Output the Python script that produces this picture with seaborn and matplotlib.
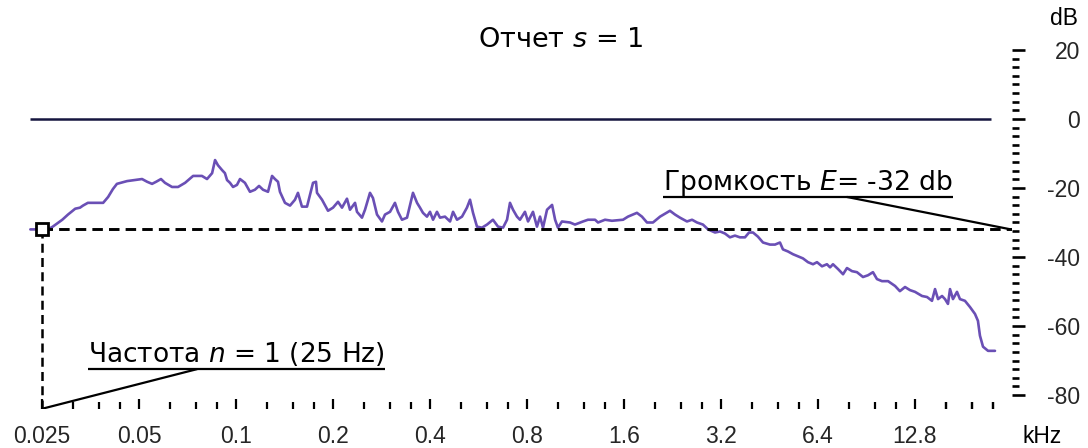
import matplotlib
matplotlib.use("Agg")
import matplotlib.pyplot as plt
import seaborn as sns
import numpy as np
import pandas as pd
from matplotlib.ticker import FixedLocator, FixedFormatter, NullFormatter

# ---------------- data ----------------
freq_khz = [
    0.0230, 0.0261, 0.0270, 0.0289, 0.0301, 0.0317, 0.0328, 0.0335, 0.0347, 0.0387,
    0.0401, 0.0415, 0.0427, 0.0459, 0.0511, 0.0530, 0.0549, 0.0565, 0.0585, 0.0602,
    0.0633, 0.0661, 0.0695, 0.0736, 0.0784, 0.0813,
    0.0843, 0.0861, 0.0879, 0.0905, 0.0924, 0.0938, 0.0958, 0.0979, 0.1007, 0.1029,
    0.1066, 0.1105, 0.1145, 0.1179, 0.1213, 0.1257, 0.1294, 0.1321, 0.1350, 0.1369,
    0.1419, 0.1471, 0.1524, 0.1557, 0.1602, 0.1661, 0.1697, 0.1734, 0.1771, 0.1784,
    0.1849, 0.1930, 0.2000, 0.2073, 0.2133, 0.2210, 0.2258, 0.2341, 0.2374, 0.2460,
    0.2514, 0.2605, 0.2661, 0.2739,
    0.2838, 0.2900, 0.3006, 0.3114, 0.3182, 0.3274, 0.3394, 0.3468, 0.3542, 0.3646,
    0.3724, 0.3804, 0.3914, 0.4000, 0.4088, 0.4204, 0.4296, 0.4452, 0.4616, 0.4716,
    0.4852, 0.5028, 0.5208, 0.5324, 0.5440, 0.5596, 0.5800, 0.6012, 0.6272, 0.6504,
    0.6740, 0.6936, 0.7084, 0.7240, 0.7448, 0.7608, 0.7884, 0.806, 0.835, 0.859,
    0.878, 0.897, 0.923,
    0.957, 0.978, 0.998, 1.027, 1.088, 1.127, 1.194, 1.237, 1.301, 1.329,
    1.397, 1.468, 1.589, 1.646, 1.755, 1.819, 1.886, 1.968, 2.070, 2.222,
    2.304, 2.387, 2.509, 2.602, 2.696, 2.813, 2.917, 3.066, 3.178,
    3.293, 3.411, 3.536, 3.664, 3.798, 3.910, 4.022, 4.166, 4.320, 4.541,
    4.707, 4.877, 4.982, 5.165, 5.354, 5.549, 5.747, 5.958, 6.176, 6.355,
    6.586, 6.822, 6.976, 7.123, 7.386, 7.654, 7.872, 8.160, 8.454, 8.826,
    9.146, 9.478, 9.754,
    10.11, 10.56, 11.10, 11.49, 11.92, 12.35, 12.80, 13.46, 13.95, 14.45,
    14.77, 15.09, 15.53, 15.86, 16.20, 16.44, 16.79, 17.28, 17.65, 18.29,
    18.96, 19.65, 20.07, 20.36, 20.81, 21.57, 22.67,
]
level_db = [
    -32.0, -32.0, -31.2, -29.2, -27.7, -26.0, -25.7, -25.1, -24.3, -24.3,
    -22.6, -20.3, -18.8, -18.0, -17.4, -18.2, -18.8, -18.2, -17.4, -18.5,
    -19.7, -19.7, -18.5, -16.5, -16.5, -17.4,
    -15.7, -11.9, -13.4, -14.8, -15.7, -17.7, -18.5, -19.7, -19.1, -17.4,
    -18.5, -21.1, -20.5, -19.4, -20.5, -21.1, -16.5, -17.4, -18.2, -21.1,
    -24.3, -25.1, -23.4, -21.4, -25.4, -25.4, -22.0, -18.5, -18.2, -21.4,
    -23.4, -26.6, -25.7, -24.0, -25.7, -23.1, -26.3, -24.3, -26.9, -28.6,
    -26.3, -21.4, -22.9, -27.7,
    -29.7, -27.7, -26.9, -24.3, -26.9, -29.2, -28.6, -24.9, -21.4, -24.3,
    -25.7, -27.2, -28.3, -26.9, -29.2, -26.9, -28.6, -28.3, -29.7, -26.9,
    -29.2, -28.3, -25.7, -23.4, -27.2, -31.2, -31.5, -30.6, -29.2, -31.2,
    -31.5, -29.2, -24.3, -26.3, -28.3, -29.2, -26.9, -29.7, -26.9, -31.2,
    -28.3, -31.5, -26.3,
    -24.9, -29.2, -31.5, -29.7, -30.0, -30.6, -29.7, -29.2, -29.2, -30.0,
    -29.2, -29.5, -29.2, -28.3, -27.2, -28.3, -30.0, -30.0, -28.3, -26.6,
    -27.7, -28.6, -29.7, -29.2, -30.0, -30.6, -32.0, -32.9, -32.6,
    -33.2, -34.3, -33.8, -34.3, -34.3, -32.9, -32.9, -34.1, -35.8, -36.4,
    -36.4, -35.8, -37.8, -38.4, -39.2, -39.8, -40.4, -41.5, -42.1, -41.5,
    -42.7, -42.1, -43.0, -42.1, -43.5, -45.0, -43.2, -44.1, -44.4, -45.8,
    -45.3, -44.4, -46.4,
    -47.0, -47.0, -48.4, -49.9, -48.7, -49.6, -50.1, -51.3, -51.6, -52.7,
    -49.3, -52.2, -51.3, -52.2, -53.6, -49.3, -52.2, -50.1, -52.2, -52.7,
    -54.5, -56.5, -58.5, -62.8, -66.0, -67.2, -67.2,
]

x_major = [0.025, 0.05, 0.1, 0.2, 0.4, 0.8, 1.6, 3.2, 6.4, 12.8]
x_labels = ["0.025", "0.05", "0.1", "0.2", "0.4", "0.8", "1.6", "3.2", "6.4", "12.8"]
x_minor_mult = [1.25, 1.5, 1.75]
y_major = [20, 0, -20, -40, -60, -80]
y_labels = ["20", "0", "-20", "-40", "-60", "-80"]
y_minor_step = 2.5

loudness_db = -32          # E
first_freq = 0.025         # n = 1 (25 Hz)
zero_line_end = 22.0
title_txt = "Отчет $s$ = 1"
loud_txt = "Громкость $E$= -32 db"
freq_txt = "Частота $n$ = 1 (25 Hz)"

# ---------------- style ----------------
sns.set_theme(style="white")
plt.rcParams["font.family"] = ["DejaVu Sans"]
plt.rcParams["mathtext.fontset"] = "dejavusans"

W, H = 1088, 448
fig = plt.figure(figsize=(W / 100, H / 100), dpi=100)
fig.patch.set_facecolor("white")

ymin, ymax = -84.0, 20.5
px_per_db = 3.45
zero_px = 119
top_px = zero_px - ymax * px_per_db
bot_px = zero_px - ymin * px_per_db
left_px, right_px = 20, 1012
ax = fig.add_axes([left_px / W, (H - bot_px) / H, (right_px - left_px) / W, (bot_px - top_px) / H])
ax.set_facecolor("white")

df = pd.DataFrame({"freq": freq_khz, "db": level_db})
sns.lineplot(data=df, x="freq", y="db", ax=ax, color="#6a4fb5", linewidth=1.9,
             estimator=None, sort=False)

ax.set_xscale("log", base=2)
xleft = 0.025 * 2 ** (-22 / 97)
ax.set_xlim(xleft, 25.6)
ax.set_ylim(ymin, ymax)

for s in ax.spines.values():
    s.set_visible(False)

# zero line
ax.plot([freq_khz[0], zero_line_end], [0, 0], color="#15153f", lw=1.8, solid_capstyle="butt")
# dashed loudness line and vertical frequency line
dash = (0, (3.6, 2.1))
ax.plot([first_freq, 25.6], [loudness_db, loudness_db], color="black", lw=2.1, linestyle=dash)
ax.plot([first_freq, first_freq], [loudness_db, ymin], color="black", lw=1.8, linestyle=dash)
ax.plot([first_freq], [loudness_db], marker="s", markersize=8.5, markerfacecolor="white",
        markeredgecolor="black", markeredgewidth=2.0, zorder=5)

# ticks
minor_x = [m * b for b in x_major for m in x_minor_mult] + [16.0, 19.2, 22.4]
minor_x = [v for v in minor_x if v < 25.6]
ax.xaxis.set_major_locator(FixedLocator(x_major))
ax.xaxis.set_major_formatter(FixedFormatter(x_labels))
ax.xaxis.set_minor_locator(FixedLocator(minor_x))
ax.xaxis.set_minor_formatter(NullFormatter())
ax.tick_params(axis="x", which="major", direction="in", length=7.5, width=1.6,
               color="black", pad=11.5, labelsize=16.5, bottom=True)
ax.tick_params(axis="x", which="minor", direction="in", length=5.2, width=1.6,
               color="black", bottom=True)
for lab in ax.get_xticklabels():
    lab.set_fontfamily("Liberation Sans")

ax.yaxis.tick_right()
ax.yaxis.set_major_locator(FixedLocator(y_major))
ax.yaxis.set_major_formatter(FixedFormatter(y_labels))
ax.yaxis.set_minor_locator(FixedLocator(list(np.arange(-80, 20.01, y_minor_step))))
ax.yaxis.set_minor_formatter(NullFormatter())
ax.tick_params(axis="y", which="major", direction="out", length=9.4, width=1.9,
               color="black", pad=39.6, labelsize=16.5, right=True, left=False)
ax.tick_params(axis="y", which="minor", direction="out", length=5.0, width=1.9,
               color="black", right=True, left=False)
for lab in ax.get_yticklabels():
    lab.set_fontfamily("Liberation Sans")
    lab.set_horizontalalignment("right")

ax.set_xlabel("")
ax.set_ylabel("")
ax.grid(False)

# axis unit labels and title
fig.text(1042 / W, (H - 443) / H, "kHz", ha="center", va="baseline",
         fontsize=16.5, family="Liberation Sans", color="black")
fig.text(1064 / W, (H - 25) / H, "dB", ha="center", va="baseline",
         fontsize=16.5, family="Liberation Sans", color="black")
fig.text(561 / W, (H - 47) / H, title_txt, ha="center", va="baseline",
         fontsize=19.5, color="black")

# annotations
t1 = ax.text(2.115, -20.6, loud_txt, ha="left", va="baseline", fontsize=19.2, color="black")
t2 = ax.text(0.0347, -70.4, freq_txt, ha="left", va="baseline", fontsize=19, color="black")

fig.canvas.draw()
rend = fig.canvas.get_renderer()
inv = ax.transData.inverted()
for t, uy in [(t1, -22.6), (t2, -72.5)]:
    bb = t.get_window_extent(rend)
    x0 = inv.transform((bb.x0, 0))[0]
    x1 = inv.transform((bb.x1, 0))[0]
    ax.plot([x0, x1], [uy, uy], color="black", lw=1.6, solid_capstyle="butt")

# leader lines
ax.plot([7.87, 25.4], [-22.6, loudness_db], color="black", lw=1.6)
ax.plot([0.0757, first_freq], [-72.5, ymin], color="black", lw=1.6)

fig.savefig("out.png", dpi=100, facecolor="white")
